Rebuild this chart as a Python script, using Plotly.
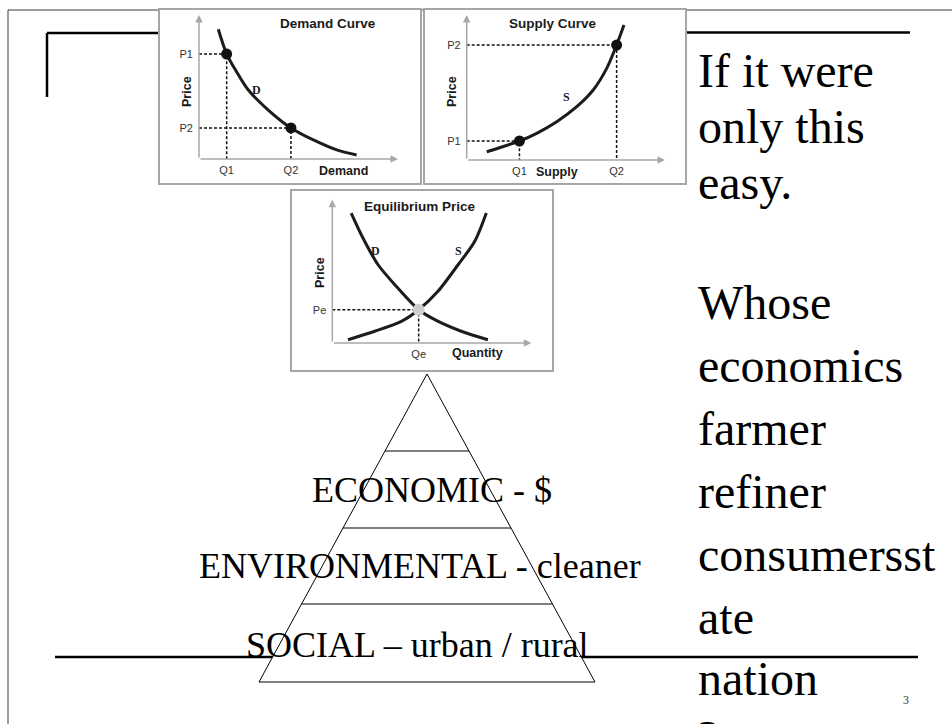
import plotly.graph_objects as go

W, H = 952, 724


def px(x):
    return x / W


def py(y):
    return 1 - y / H


# ---------------- data ----------------
# Demand curve panel (quantity, price on a 0-10 scale)
demand_q = [0.97, 1.39, 1.89, 2.48, 3.48, 4.62, 5.83, 6.92, 7.92]
demand_p = [9.01, 7.29, 6.06, 4.79, 3.40, 2.16, 1.27, 0.63, 0.28]
demand_mark_q = [1.39, 4.62]
demand_mark_p = [7.29, 2.16]
demand_q_labels = ["Q1", "Q2"]
demand_p_labels = ["P1", "P2"]

# Supply curve panel
supply_q = [1.01, 2.66, 3.53, 4.54, 5.55, 6.38, 7.06, 7.56, 7.93]
supply_p = [0.57, 1.31, 1.84, 2.64, 3.68, 4.83, 6.32, 7.93, 9.31]
supply_mark_q = [2.66, 7.56]
supply_mark_p = [1.31, 7.93]
supply_q_labels = ["Q1", "Q2"]
supply_p_labels = ["P1", "P2"]

# Equilibrium panel
eq_demand_q = [0.95, 1.54, 2.30, 3.14, 4.34, 5.15, 6.48, 7.82]
eq_demand_p = [9.07, 7.33, 5.46, 4.07, 2.32, 1.63, 0.82, 0.23]
eq_supply_q = [0.79, 2.13, 3.47, 4.34, 5.31, 6.32, 7.16, 7.74]
eq_supply_p = [0.23, 0.82, 1.51, 2.32, 3.61, 5.46, 7.10, 9.07]
eq_mark_q = [4.34]
eq_mark_p = [2.32]
eq_q_labels = ["Qe"]
eq_p_labels = ["Pe"]

panel_titles = ["Demand Curve", "Supply Curve", "Equilibrium Price"]
panel_x_titles = ["Demand", "Supply", "Quantity"]
panel_y_title = "Price"
curve_letters = [["D"], ["S"], ["D", "S"]]

pyramid_tiers = ["ECONOMIC - $", "ENVIRONMENTAL - cleaner", "SOCIAL \u2013 urban / rural"]

side_lines = ["If it were", "only this", "easy.", "Whose", "economics", "farmer",
              "refiner", "consumersst", "ate", "nation", "?"]
page_number = "3"

# ---------------- styles / layout constants ----------------
CURVE = "#1c1c1c"
AXIS_GRAY = "#a8a8a8"
BOX_GRAY = "#a6a6a6"
SANS = "Liberation Sans, Arial, sans-serif"
SERIF = "Liberation Serif, Times New Roman, serif"

fig = go.Figure()

# panel geometry (pixels): origin x, tip x, origin y, tip y
panels = {
    "": (199, 398, 159, 15),
    "2": (466.7, 665, 160, 15),
    "3": (332.3, 531.3, 343, 199.7),
}

layout_axes = {}
for suf, (x0, x1, y0, y1) in panels.items():
    common = dict(range=[0, 10], showgrid=False, zeroline=False, showline=False,
                  ticks="", fixedrange=True,
                  tickfont=dict(family=SANS, size=11, color="#333333"))
    layout_axes["xaxis" + suf] = dict(common, domain=[px(x0), px(x1)],
                                       anchor="y" + suf, ticklabelstandoff=3)
    layout_axes["yaxis" + suf] = dict(common, domain=[py(y0), py(y1)],
                                       anchor="x" + suf, ticklabelstandoff=5)


def add_panel(suf, cq, cp, mq, mp, qlab, plab, marker_color, marker_size, extra_curves=()):
    xr, yr = "x" + suf, "y" + suf
    # dashed guides
    for q, p in zip(mq, mp):
        fig.add_trace(go.Scatter(x=[0, q, q], y=[p, p, 0], mode="lines", xaxis=xr, yaxis=yr,
                                 line=dict(color="#111111", width=1.5, dash="3px,2px"),
                                 hoverinfo="skip", showlegend=False))
    for qq, pp in [(cq, cp)] + list(extra_curves):
        fig.add_trace(go.Scatter(x=qq, y=pp, mode="lines", xaxis=xr, yaxis=yr,
                                 line=dict(color=CURVE, width=3, shape="spline", smoothing=0.8),
                                 hoverinfo="skip", showlegend=False))
    fig.add_trace(go.Scatter(x=mq, y=mp, mode="markers", xaxis=xr, yaxis=yr,
                             marker=dict(color=marker_color, size=marker_size),
                             hoverinfo="skip", showlegend=False))
    layout_axes["xaxis" + suf].update(tickvals=mq, ticktext=qlab)
    layout_axes["yaxis" + suf].update(tickvals=mp, ticktext=plab)


add_panel("", demand_q, demand_p, demand_mark_q, demand_mark_p,
          demand_q_labels, demand_p_labels, "#111111", 11)
add_panel("2", supply_q, supply_p, supply_mark_q, supply_mark_p,
          supply_q_labels, supply_p_labels, "#111111", 11)
add_panel("3", eq_demand_q, eq_demand_p, eq_mark_q, eq_mark_p,
          eq_q_labels, eq_p_labels, "#cfcfcf", 12,
          extra_curves=[(eq_supply_q, eq_supply_p)])

annotations = []
# axis arrows
for suf in panels:
    xr, yr = "x" + suf, "y" + suf
    for hx, hy in [(10, 0), (0, 10)]:
        annotations.append(dict(x=hx, y=hy, ax=0, ay=0, xref=xr, yref=yr, axref=xr, ayref=yr,
                                text="", showarrow=True, arrowhead=2, arrowsize=1,
                                arrowwidth=1.5, arrowcolor=AXIS_GRAY, standoff=0))


def text_ann(x, y, text, font, xanchor="center", **kw):
    d = dict(x=px(x), y=py(y), xref="paper", yref="paper", text=text, showarrow=False,
             xanchor=xanchor, yanchor="middle", borderpad=0, font=font)
    d.update(kw)
    annotations.append(d)


# panel texts (pixel positions)
title_pos = [(328, 23), (553, 23), (420, 206)]
xtitle_pos = [(343, 171), (557, 171.5), (477, 353)]
ytitle_pos = [(187, 92), (452, 92), (320, 273)]
letter_pos = [[(256.7, 90)], [(566.7, 96.7)], [(375.3, 251.3), (458, 251.3)]]
for i in range(3):
    text_ann(*title_pos[i], "<b>%s</b>" % panel_titles[i],
             dict(family=SANS, size=13.5, color="#1a1a1a"))
    text_ann(*xtitle_pos[i], "<b>%s</b>" % panel_x_titles[i],
             dict(family=SANS, size=12.5, color="#1a1a1a"))
    text_ann(*ytitle_pos[i], "<b>%s</b>" % panel_y_title,
             dict(family=SANS, size=12.5, color="#1a1a1a"), textangle=-90)
    for letter, (lx, ly) in zip(curve_letters[i], letter_pos[i]):
        text_ann(lx, ly, "<b>%s</b>" % letter, dict(family=SERIF, size=12, color="#1a1a1a"))

# pyramid tier labels (text middle positions)
tier_pos = [(432, 490), (420, 566), (417, 645)]
for t, (tx, ty) in zip(pyramid_tiers, tier_pos):
    text_ann(tx, ty, t, dict(family=SERIF, size=36, color="black"))

# right-hand text (baselines)
side_baselines = [86, 142, 199, 318, 381, 444, 507, 570, 633, 694, 753]
for t, b in zip(side_lines, side_baselines):
    text_ann(697, b - 16, t, dict(family=SERIF, size=48, color="black"), xanchor="left")

text_ann(906, 700, page_number, dict(family=SERIF, size=12, color="#333333"))

# ---------------- shapes ----------------
shapes = []


def line(x0, y0, x1, y1, color, width):
    shapes.append(dict(type="line", xref="paper", yref="paper", x0=px(x0), y0=py(y0),
                       x1=px(x1), y1=py(y1), line=dict(color=color, width=width), layer="below"))


# slide frame
line(8, 10, 952, 10, "#3a3a3a", 1)
line(8, 10, 8, 724, "#3a3a3a", 1)
# title bracket
line(47, 33, 160, 33, "black", 2.5)
line(47, 33, 47, 97, "black", 2.5)
line(686, 32.5, 910, 32.5, "black", 2.5)
# bottom rule
line(55, 657, 918, 657, "black", 2.5)

# chart boxes
for x0, y0, x1, y1 in [(159, 9, 421, 184), (424, 9, 686, 184), (291, 190, 553, 371)]:
    shapes.append(dict(type="rect", xref="paper", yref="paper", x0=px(x0), y0=py(y0),
                       x1=px(x1), y1=py(y1), line=dict(color=BOX_GRAY, width=2),
                       fillcolor="white", layer="below"))

# pyramid
apex = (427, 374)
base_y, half_base = 682, 168
path = "M %f %f L %f %f L %f %f Z" % (px(apex[0]), py(apex[1]), px(apex[0] - half_base), py(base_y),
                                      px(apex[0] + half_base), py(base_y))
shapes.append(dict(type="path", xref="paper", yref="paper", path=path,
                   line=dict(color="black", width=1), fillcolor="white", layer="below"))
for dy in [451, 528, 604]:
    hw = (dy - apex[1]) / (base_y - apex[1]) * half_base
    line(apex[0] - hw, dy, apex[0] + hw, dy, "black", 1)

fig.update_layout(
    width=W, height=H, margin=dict(l=0, r=0, t=0, b=0),
    paper_bgcolor="white", plot_bgcolor="rgba(0,0,0,0)",
    showlegend=False, shapes=shapes, annotations=annotations,
    **layout_axes,
)

fig.write_html("out.html", config={"displayModeBar": False},
               post_script="document.body.style.margin='0';document.body.style.overflow='hidden';")
